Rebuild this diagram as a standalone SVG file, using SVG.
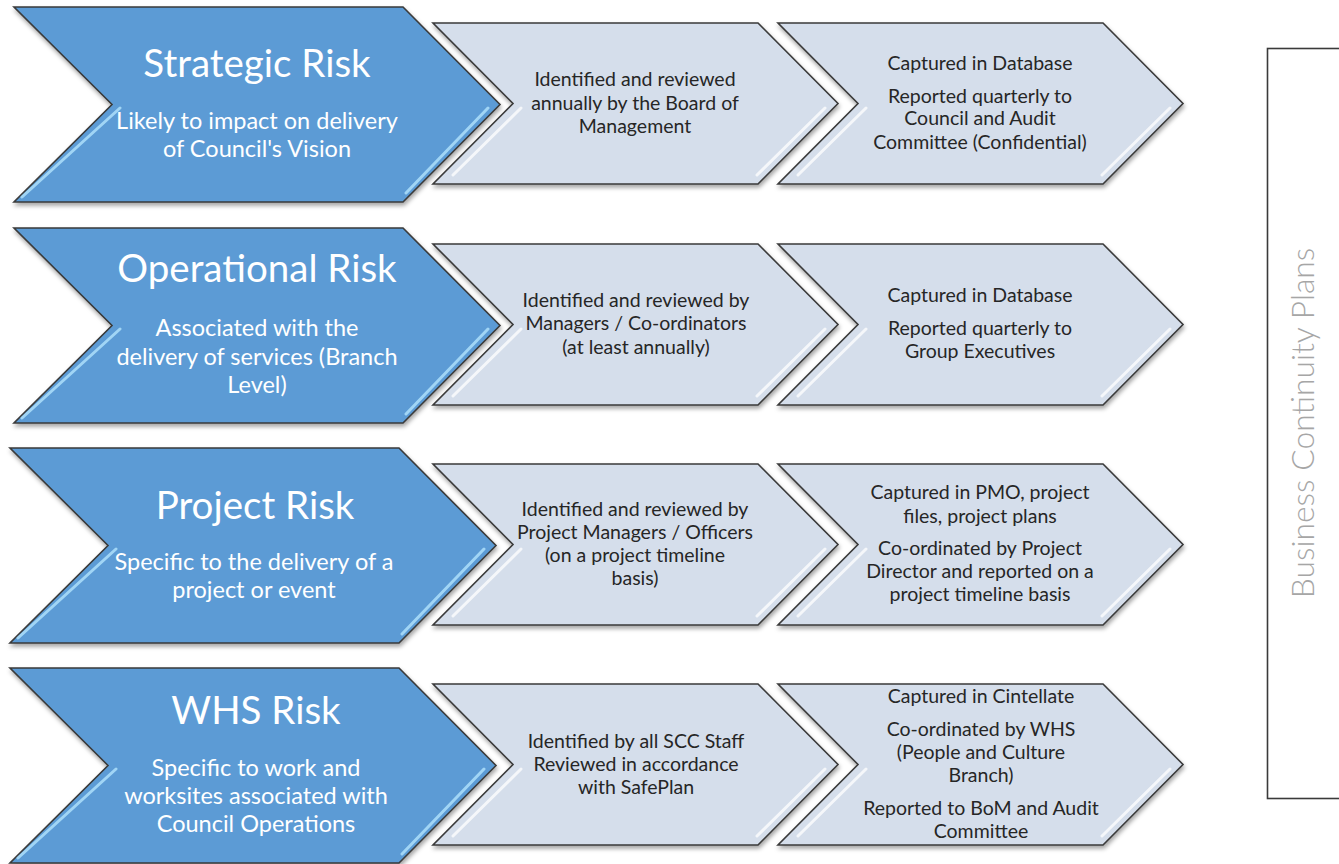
<svg xmlns="http://www.w3.org/2000/svg" width="1339" height="864" viewBox="0 0 1339 864">
<defs>
<filter id="sh" x="-5%" y="-5%" width="112%" height="120%">
<feDropShadow dx="1" dy="3" stdDeviation="2" flood-color="#000" flood-opacity="0.35"/>
</filter>
<path id="bigChev" d="M0,0 H389 L486,97.5 L389,195 H0 L98,97.5 Z"/>
<path id="smChev" d="M0,0 H325 L405,80.5 L325,161 H0 L80,80.5 Z"/>
</defs>
<style>
.blue{fill:#5b9bd5;stroke:#3a3a3a;stroke-width:1.6;stroke-linejoin:miter}
.light{fill:#d5deeb;stroke:#3a3a3a;stroke-width:1.6;stroke-linejoin:miter}
.hlb{stroke:#a9dcf8;stroke-width:3;fill:none;stroke-linecap:round;opacity:0.9}
.hll{stroke:#ffffff;stroke-width:3;fill:none;stroke-linecap:round;opacity:0.75}
.title{font-family:Lato,"Liberation Sans",sans-serif;font-size:38.5px;fill:#ffffff;text-anchor:middle}
.sub{font-family:Lato,"Liberation Sans",sans-serif;font-size:23.5px;fill:#ffffff;text-anchor:middle}
.txt{font-family:Lato,"Liberation Sans",sans-serif;font-size:19.5px;fill:#262626;text-anchor:middle}
.side{font-family:Lato,"Liberation Sans",sans-serif;font-weight:300;font-size:31.8px;fill:#a6a6a6;text-anchor:middle}
</style>
<rect width="1339" height="864" fill="#ffffff"/>

<!-- Row 1 -->
<g id="strategic-risk">
<g transform="translate(14,7)">
<use href="#bigChev" class="blue" filter="url(#sh)"/>
<path class="hlb" d="M106,101 L8,190 M474,101 L392,186"/>
</g>
<text class="title" x="257" y="77">Strategic Risk</text>
<text class="sub" x="257" y="129">Likely to impact on delivery</text>
<text class="sub" x="257" y="157">of Council's Vision</text>
</g>
<g id="strategic-review">
<g transform="translate(433,23)">
<use href="#smChev" class="light" filter="url(#sh)"/>
<path class="hll" d="M88,85 L20,152 M392,85 L324,152"/>
</g>
<text class="txt" x="635" y="86">Identified and reviewed</text>
<text class="txt" x="635" y="110">annually by the Board of</text>
<text class="txt" x="635" y="133">Management</text>
</g>
<g id="strategic-report">
<g transform="translate(778,23)">
<use href="#smChev" class="light" filter="url(#sh)"/>
<path class="hll" d="M88,85 L20,152 M392,85 L324,152"/>
</g>
<text class="txt" x="980" y="70">Captured in Database</text>
<text class="txt" x="980" y="103">Reported quarterly to</text>
<text class="txt" x="980" y="125">Council and Audit</text>
<text class="txt" x="980" y="149">Committee (Confidential)</text>
</g>

<!-- Row 2 -->
<g id="operational-risk">
<g transform="translate(14,228)">
<use href="#bigChev" class="blue" filter="url(#sh)"/>
<path class="hlb" d="M106,101 L8,190 M474,101 L392,186"/>
</g>
<text class="title" x="257" y="282">Operational Risk</text>
<text class="sub" x="257" y="336">Associated with the</text>
<text class="sub" x="257" y="365">delivery of services (Branch</text>
<text class="sub" x="257" y="393">Level)</text>
</g>
<g id="operational-review">
<g transform="translate(433,244)">
<use href="#smChev" class="light" filter="url(#sh)"/>
<path class="hll" d="M88,85 L20,152 M392,85 L324,152"/>
</g>
<text class="txt" x="636" y="307">Identified and reviewed by</text>
<text class="txt" x="636" y="330">Managers / Co-ordinators</text>
<text class="txt" x="636" y="354">(at least annually)</text>
</g>
<g id="operational-report">
<g transform="translate(778,244)">
<use href="#smChev" class="light" filter="url(#sh)"/>
<path class="hll" d="M88,85 L20,152 M392,85 L324,152"/>
</g>
<text class="txt" x="980" y="302">Captured in Database</text>
<text class="txt" x="980" y="335">Reported quarterly to</text>
<text class="txt" x="980" y="358">Group Executives</text>
</g>

<!-- Row 3 -->
<g id="project-risk">
<g transform="translate(10,448)">
<use href="#bigChev" class="blue" filter="url(#sh)"/>
<path class="hlb" d="M106,101 L8,190 M474,101 L392,186"/>
</g>
<text class="title" x="255" y="519">Project Risk</text>
<text class="sub" x="254" y="570">Specific to the delivery of a</text>
<text class="sub" x="254" y="598">project or event</text>
</g>
<g id="project-review">
<g transform="translate(433,464)">
<use href="#smChev" class="light" filter="url(#sh)"/>
<path class="hll" d="M88,85 L20,152 M392,85 L324,152"/>
</g>
<text class="txt" x="635" y="516">Identified and reviewed by</text>
<text class="txt" x="635" y="539">Project Managers / Officers</text>
<text class="txt" x="635" y="562">(on a project timeline</text>
<text class="txt" x="635" y="585">basis)</text>
</g>
<g id="project-report">
<g transform="translate(778,464)">
<use href="#smChev" class="light" filter="url(#sh)"/>
<path class="hll" d="M88,85 L20,152 M392,85 L324,152"/>
</g>
<text class="txt" x="980" y="499">Captured in PMO, project</text>
<text class="txt" x="980" y="523">files, project plans</text>
<text class="txt" x="980" y="555">Co-ordinated by Project</text>
<text class="txt" x="980" y="578">Director and reported on a</text>
<text class="txt" x="980" y="601">project timeline basis</text>
</g>

<!-- Row 4 -->
<g id="whs-risk">
<g transform="translate(10,668)">
<use href="#bigChev" class="blue" filter="url(#sh)"/>
<path class="hlb" d="M106,101 L8,190 M474,101 L392,186"/>
</g>
<text class="title" x="256" y="724">WHS Risk</text>
<text class="sub" x="256" y="776">Specific to work and</text>
<text class="sub" x="256" y="804">worksites associated with</text>
<text class="sub" x="256" y="832">Council Operations</text>
</g>
<g id="whs-review">
<g transform="translate(433,684)">
<use href="#smChev" class="light" filter="url(#sh)"/>
<path class="hll" d="M88,85 L20,152 M392,85 L324,152"/>
</g>
<text class="txt" x="636" y="748">Identified by all SCC Staff</text>
<text class="txt" x="636" y="771">Reviewed in accordance</text>
<text class="txt" x="636" y="794">with SafePlan</text>
</g>
<g id="whs-report">
<g transform="translate(778,684)">
<use href="#smChev" class="light" filter="url(#sh)"/>
<path class="hll" d="M88,85 L20,152 M392,85 L324,152"/>
</g>
<text class="txt" x="981" y="703">Captured in Cintellate</text>
<text class="txt" x="981" y="736">Co-ordinated by WHS</text>
<text class="txt" x="981" y="759">(People and Culture</text>
<text class="txt" x="981" y="782">Branch)</text>
<text class="txt" x="981" y="815">Reported to BoM and Audit</text>
<text class="txt" x="981" y="838">Committee</text>
</g>

<!-- Side box -->
<g id="business-continuity-plans">
<rect x="1267.5" y="48.5" width="80" height="750" fill="#ffffff" stroke="#3a3a3a" stroke-width="1.6"/>
<text class="side" transform="translate(1314,423) rotate(-90)">Business Continuity Plans</text>
</g>
</svg>
